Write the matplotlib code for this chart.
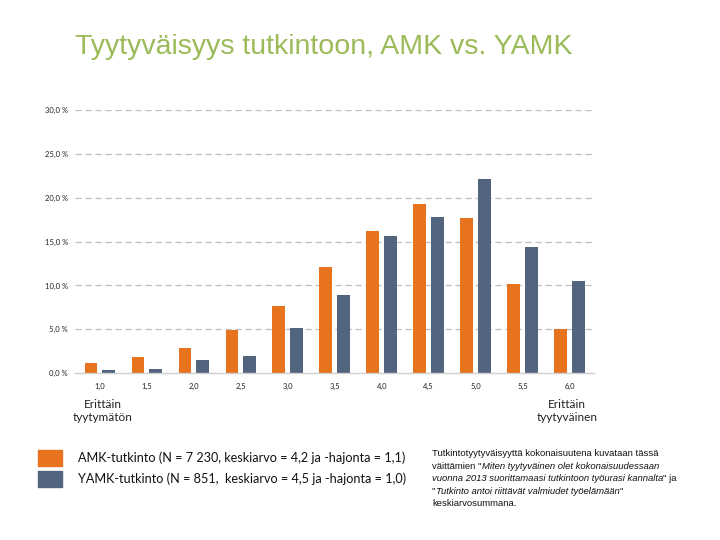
import matplotlib.pyplot as plt
import numpy as np

categories = ["1,0", "1,5", "2,0", "2,5", "3,0", "3,5", "4,0", "4,5", "5,0", "5,5", "6,0"]
amk = [1.2, 1.8, 2.9, 4.9, 7.7, 12.1, 16.2, 19.3, 17.7, 10.2, 5.05]
yamk = [0.4, 0.5, 1.55, 1.9, 5.2, 8.9, 15.7, 17.8, 22.1, 14.4, 10.55]
y_ticks = [0, 5, 10, 15, 20, 25, 30]

legend_labels = ["AMK-tutkinto (N = 7 230, keskiarvo = 4,2 ja -hajonta = 1,1)",
                 "YAMK-tutkinto (N = 851,  keskiarvo = 4,5 ja -hajonta = 1,0)"]
orange = "#E8731F"
blue = "#53647E"

fig = plt.figure(figsize=(7.2, 5.4), dpi=100)
ax = fig.add_axes([0.104, 0.309, 0.718, 0.487])

x = np.arange(len(categories))
ax.bar(x - 0.19, amk, width=0.27, color=orange, zorder=3)
ax.bar(x + 0.19, yamk, width=0.27, color=blue, zorder=3)

ax.set_xlim(-0.53, 10.47)
ax.set_ylim(0, 30)
ax.set_yticks(y_ticks)
ax.set_yticklabels([f"{v:.1f}".replace(".", ",") + " %" for v in y_ticks],
                   fontsize=5.5, family="Lato", color="#222222")
ax.set_xticks(x)
ax.set_xticklabels(categories, fontsize=5.5, family="Lato", color="#222222")
ax.tick_params(length=0, pad=7)
ax.tick_params(axis="y", pad=5)

for v in y_ticks[1:]:
    ax.axhline(v, color="#BFBFBF", lw=0.9, ls=(0, (5, 3)), zorder=1)
ax.axhline(0, color="#D0D0D0", lw=1.0, zorder=4, xmax=1.005, clip_on=False)
for s in ax.spines.values():
    s.set_visible(False)

fig.text(75 / 720, 1 - 47 / 540, "Tyytyväisyys tutkintoon, AMK vs. YAMK",
         fontsize=20.5, color="#9BBB59", family="Liberation Sans", va="center")

fig.text(103 / 720, 1 - 411 / 540, "Erittäin\ntyytymätön", ha="center", va="center",
         fontsize=8.5, family="Lato", color="#222222", linespacing=1.15)
fig.text(567 / 720, 1 - 411 / 540, "Erittäin\ntyytyväinen", ha="center", va="center",
         fontsize=8.5, family="Lato", color="#222222", linespacing=1.15)

# legend boxes
for i, (lab, col) in enumerate(zip(legend_labels, [orange, blue])):
    yc = 458 + i * 21
    fig.patches.append(plt.Rectangle((38 / 720, 1 - (yc + 8) / 540), 24 / 720, 16 / 540,
                                     transform=fig.transFigure, color=col))
    fig.text(78 / 720, 1 - yc / 540, lab, fontsize=9.1, family="Lato",
             color="#111111", va="center")

# note with italic parts
note_lines = [
    [("Tutkintotyytyväisyyttä kokonaisuutena kuvataan tässä", "normal")],
    [("väittämien \"", "normal"), ("Miten tyytyväinen olet kokonaisuudessaan", "italic")],
    [("vuonna 2013 suorittamaasi tutkintoon työurasi kannalta", "italic"), ("\" ja", "normal")],
    [("\"", "normal"), ("Tutkinto antoi riittävät valmiudet työelämään", "italic"), ("\"", "normal")],
    [("keskiarvosummana.", "normal")],
]
note_kw = dict(fontsize=6.8, family="Liberation Sans", color="#111111", va="center")
for i, parts in enumerate(note_lines):
    yl = 1 - (454 + i * 12.4) / 540
    last = None
    for txt, style in parts:
        if last is None:
            last = fig.text(432 / 720, yl, txt, style=style, **note_kw)
        else:
            last = fig.text(0, 0, txt, style=style, **note_kw)
            last.remove()
            last = ax.annotate(txt, xy=(1, 0.5), xycoords=prev, ha="left",
                               style=style, annotation_clip=False, **note_kw)
        prev = last

fig.savefig("out.png", dpi=100)
